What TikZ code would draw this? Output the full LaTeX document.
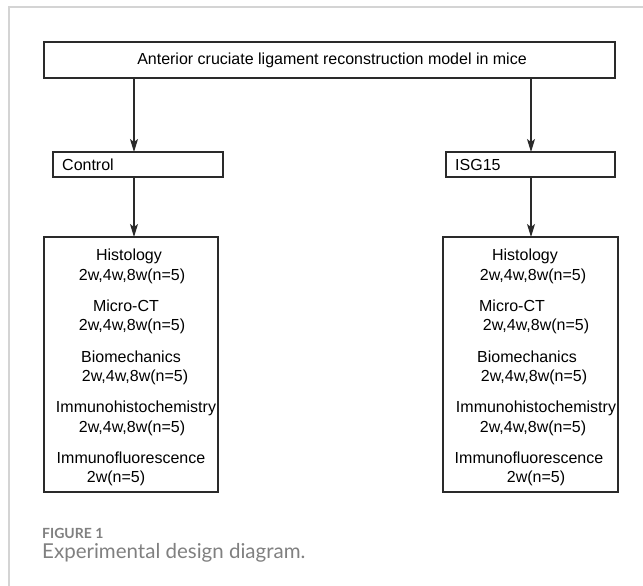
\documentclass[tikz,border=0pt]{standalone}
\usepackage{fontspec}
\setmainfont{Liberation Sans}
\newfontfamily\capfont{Lato}
\usetikzlibrary{arrows.meta}
\definecolor{framegray}{HTML}{D4D4D4}
\definecolor{linegray}{HTML}{2A2A2A}
\definecolor{capgray}{HTML}{808080}
\begin{document}
\begin{tikzpicture}[x=1pt,y=-1pt,
  boxline/.style={draw=linegray,line width=1.3pt},
  conn/.style={draw=linegray,line width=1.2pt,-{Stealth[length=13pt,width=8pt,inset=3pt]}},
  lbl/.style={font=\fontsize{16}{18}\selectfont,inner sep=0pt,anchor=center},
  capfig/.style={font=\capfont\bfseries\fontsize{14}{16}\selectfont,text=capgray,inner sep=0pt,anchor=west},
  captxt/.style={font=\capfont\fontsize{20.5}{22}\selectfont,text=capgray,inner sep=0pt,anchor=west}]
\useasboundingbox (0,0) rectangle (643,586);
% frame
\draw[framegray,line width=1.2pt] (9,586) -- (9,7) -- (643,7);
% top box
\path[boxline] (44,42) rectangle (615,78);
\node[lbl] (top) at (332,60) {Anterior cruciate ligament reconstruction model in mice};
\coordinate (topL) at (134,78);
\coordinate (topR) at (531,78);
% group boxes
\path[boxline] (53,152) rectangle (223,177);
\path[boxline] (446,152) rectangle (615,177);
\node[lbl,anchor=west] (ctrl) at (62,164.5) {Control};
\node[lbl,anchor=west] (isg) at (455,164.5) {ISG15};
\coordinate (ctrlT) at (134,152);
\coordinate (ctrlB) at (134,177);
\coordinate (isgT) at (531,152);
\coordinate (isgB) at (531,177);
% big boxes
\path[boxline] (44,237) rectangle (218,492);
\path[boxline] (443,237) rectangle (618,492);
\coordinate (bigL) at (134,237);
\coordinate (bigR) at (531,237);
% arrows
\draw[conn] (topL) -- (ctrlT);
\draw[conn] (topR) -- (isgT);
\draw[conn] (ctrlB) -- (bigL);
\draw[conn] (isgB) -- (bigR);
% left texts
\node[lbl] (l1a) at (129,256) {Histology};
\node[lbl] (l1b) at (132,276) {2w,4w,8w(n=5)};
\node[lbl] (l2a) at (126,306) {Micro-CT};
\node[lbl] (l2b) at (132,326) {2w,4w,8w(n=5)};
\node[lbl] (l3a) at (131,357) {Biomechanics};
\node[lbl] (l3b) at (135,377) {2w,4w,8w(n=5)};
\node[lbl] (l4a) at (136,408) {Immunohistochemistry};
\node[lbl] (l4b) at (132,428) {2w,4w,8w(n=5)};
\node[lbl] (l5a) at (131,458) {Immunofluorescence};
\node[lbl] (l5b) at (116,478) {2w(n=5)};
% right texts
\node[lbl] (r1a) at (525,256) {Histology};
\node[lbl] (r1b) at (533,276) {2w,4w,8w(n=5)};
\node[lbl] (r2a) at (512,306) {Micro-CT};
\node[lbl] (r2b) at (536,326) {2w,4w,8w(n=5)};
\node[lbl] (r3a) at (527,357) {Biomechanics};
\node[lbl] (r3b) at (534,377) {2w,4w,8w(n=5)};
\node[lbl] (r4a) at (536,408) {Immunohistochemistry};
\node[lbl] (r4b) at (533,428) {2w,4w,8w(n=5)};
\node[lbl] (r5a) at (529,458) {Immunofluorescence};
\node[lbl] (r5b) at (536,478) {2w(n=5)};
% caption
\node[capfig] (fig) at (42,533) {FIGURE 1};
\node[captxt] (cap) at (42,553) {Experimental design diagram.};
\end{tikzpicture}
\end{document}
